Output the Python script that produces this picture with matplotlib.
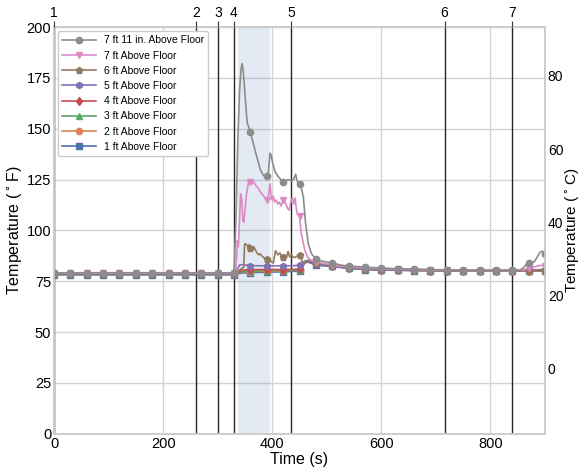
import numpy as np
import matplotlib
matplotlib.use('Agg')
import matplotlib.pyplot as plt

plt.rcParams['font.family'] = ['Liberation Sans', 'DejaVu Sans']

# Baseline sample times (s) shared by every sensor before ignition
t_base = [0, 30, 60, 90, 120, 150, 180, 210, 240, 270, 300, 330]

# 7 ft 11 in. Above Floor
t_7ft11 = t_base + [334, 337, 340, 343, 345, 347, 350, 354, 360, 365, 369, 374, 378, 384,
                    390, 393, 396, 398, 401, 405, 411, 417, 420, 425, 430, 435, 439, 443,
                    446, 450, 453, 457, 461, 466, 472, 480, 490, 500, 510, 525, 540, 570,
                    600, 630, 660, 690, 720, 750, 780, 810, 840, 855, 862, 866, 870, 875,
                    880, 886, 890, 894, 897, 900]
T_7ft11 = [79.2] * 12 + [110, 145, 168, 180, 182, 178, 167, 153, 148.5, 143, 139, 134, 130,
                         127, 127, 129, 138, 137, 133, 129, 126.4, 124.8, 124, 124.5, 125,
                         124.5, 125, 127.6, 124, 123, 121, 116.6, 104, 93.5, 88.5, 86, 85,
                         84.5, 84, 83, 82.5, 82, 81.5, 81.2, 81, 80.8, 80.6, 80.4, 80.4,
                         80.4, 80.4, 80.6, 82, 83.5, 84, 84, 84.5, 87, 89, 89.8, 89.5, 88.5]

# 7 ft Above Floor
t_7ft = t_base + [333, 335, 336, 338, 340, 342, 344, 346, 348, 350, 353, 356, 358, 360, 363,
                  366, 370, 374, 378, 381, 384, 387, 390, 392, 394, 396, 398, 400, 402, 404,
                  407, 410, 413, 416, 419, 420, 422, 425, 428, 431, 434, 437, 440, 442, 444,
                  446, 450, 453, 456, 460, 465, 470, 480, 490, 500, 510, 540, 570, 600, 630,
                  660, 690, 720, 750, 780, 810, 840, 860, 870, 880, 890, 900]
T_7ft = [79.0] * 12 + [80, 87, 95, 92, 105, 118, 116, 105, 104, 110, 118, 123, 125, 124, 123,
                       124, 122, 121, 119, 118, 117, 116, 115, 115, 119, 123, 116, 115, 117,
                       114, 115, 113, 114, 112, 114, 115, 115, 113, 111, 110, 114, 116, 113,
                       116, 111, 108, 107, 99, 95, 90, 87, 85.5, 84.5, 84, 83.5, 83, 82,
                       81.5, 81.2, 81, 80.8, 80.6, 80.5, 80.3, 80.3, 80.3, 80.3, 80.5, 81.5,
                       82, 82.8, 82.6]

# 6 ft Above Floor
t_6ft = t_base + [335, 340, 345, 348, 349, 350, 353, 356, 358, 360, 363, 366, 369, 372, 375,
                  378, 381, 385, 390, 393, 396, 399, 402, 404, 406, 408, 411, 414, 417, 420,
                  423, 426, 429, 432, 435, 438, 442, 446, 450, 453, 456, 460, 465, 470, 480,
                  490, 500, 510, 540, 570, 600, 630, 660, 690, 720, 750, 780, 810, 840, 870,
                  900]
T_6ft = [78.8] * 12 + [79.5, 80.5, 81.5, 82, 92, 93.5, 93, 92, 93, 91.5, 90, 92, 90.5, 89, 88,
                       88.5, 87.5, 86.5, 86, 86.5, 85.5, 84.5, 84, 87, 90, 89, 88, 89, 87.5,
                       87, 88, 86.5, 89.7, 87, 88, 87, 86.7, 87.5, 88, 86, 84.5, 84, 85, 85,
                       84, 83.5, 83, 82.8, 82, 81.5, 81.2, 81, 80.8, 80.6, 80.5, 80.3, 80.3,
                       80.3, 80.3, 80.5, 80.8]

# Lower sensors share the same sample times
t_low = t_base + [333, 336, 340, 345, 360, 390, 420, 440, 450, 455, 460, 465, 470, 480, 490,
                  500, 510, 540, 570, 600, 630, 660, 690, 720, 750, 780, 810, 840, 870, 900]
T_5ft = [78.6] * 12 + [79, 81, 83, 83.2, 82.7, 82.6, 82.6, 82.7, 83, 84, 84.8, 85, 84.5, 83.5,
                       83, 82.8, 82.5, 81.5, 81, 80.8, 80.6, 80.5, 80.4, 80.3, 80.3, 80.3,
                       80.3, 80.3, 80.4, 80.5]
T_4ft = [78.5] * 12 + [78.8, 79.2, 79.8, 80.5, 80.7, 80.8, 80.8, 80.9, 81, 83, 84.5, 85, 84.5,
                       83.5, 83.2, 83, 82.5, 81.5, 81, 80.7, 80.5, 80.4, 80.3, 80.3, 80.3,
                       80.2, 80.2, 80.2, 80.3, 80.3]
T_3ft = [78.4] * 12 + [78.6, 79, 79.4, 79.8, 80, 80.3, 80.4, 80.5, 80.6, 83, 85, 85.3, 85, 84,
                       83.4, 83, 82.7, 81.5, 81, 80.7, 80.5, 80.4, 80.3, 80.3, 80.2, 80.2,
                       80.2, 80.2, 80.2, 80.3]
T_2ft = [78.5] * 12 + [78.6, 79, 79.3, 79.6, 79.8, 80, 80.2, 80.4, 80.5, 82.5, 84.5, 85.3, 85,
                       84.3, 83.5, 83.1, 82.8, 81.6, 81, 80.7, 80.5, 80.4, 80.3, 80.3, 80.2,
                       80.2, 80.2, 80.2, 80.2, 80.3]
T_1ft = [78.2] * 12 + [78.3, 78.6, 78.9, 79.1, 79.3, 79.5, 79.7, 79.9, 80, 82, 84, 84.5, 84,
                       83, 82.7, 82.5, 82.3, 81.3, 80.8, 80.5, 80.4, 80.3, 80.2, 80.2, 80.1,
                       80.1, 80.1, 80.1, 80.1, 80.2]

labels = ['1 ft Above Floor', '2 ft Above Floor', '3 ft Above Floor', '4 ft Above Floor',
          '5 ft Above Floor', '6 ft Above Floor', '7 ft Above Floor', '7 ft 11 in. Above Floor']
times = [t_low, t_low, t_low, t_low, t_low, t_6ft, t_7ft, t_7ft11]
temps = [T_1ft, T_2ft, T_3ft, T_4ft, T_5ft, T_6ft, T_7ft, T_7ft11]
markers = ['s', 'o', '^', 'd', 'h', 'p', 'v', 'o']
colors = ['#4C72B0', '#DD8452', '#55A868', '#C44E52', '#8172B3', '#937860', '#DA8BC3', '#8C8C8C']

# Timeline events (s) and label shown on top axis
event_times = [0, 261, 301, 329, 435, 716, 839]
event_labels = ['1', '2', '3', '4', '5', '6', '7']
shade_start, shade_end = 336.5, 395.5

fig = plt.figure(figsize=(5.81, 4.67), dpi=100)
ax1 = fig.add_axes([0.093, 0.071, 0.845, 0.871])

ax1.axvspan(shade_start, shade_end, color='#4C72B0', alpha=0.15, lw=0, zorder=1)
for et in event_times:
    ax1.axvline(et, color='k', lw=1, alpha=0.85, zorder=2)

handles = []
for t, T, m, c, lab in zip(times, temps, markers, colors, labels):
    t = np.array(t)
    mk = list(np.where(t % 30 == 0)[0])
    h, = ax1.plot(t, T, color=c, marker=m, markevery=mk, ms=4.5, lw=1.2, label=lab, zorder=3)
    handles.append(h)

ax1.set_xlim(0, 900)
ax1.set_ylim(0, 200)
ax1.set_xticks([0, 200, 400, 600, 800])
ax1.set_xlabel('Time (s)', fontsize=11.5, labelpad=1)
ax1.set_ylabel('Temperature ($^\\circ$F)', fontsize=11.5, labelpad=2)
ax1.grid(True, color='#d3d3d3', lw=1)
ax1.set_axisbelow(True)
ax1.tick_params(length=0, labelsize=10.5, pad=2)
for sp in ax1.spines.values():
    sp.set_color('#cccccc')
    sp.set_linewidth(1.2)

leg = ax1.legend(handles[::-1], labels[::-1], loc='upper left', fontsize=7.5,
                 handlelength=3.2, labelspacing=0.5, framealpha=1, edgecolor='#cccccc',
                 borderaxespad=0.4)
leg.set_zorder(10)

ax2 = ax1.twinx()
ax2.set_ylim((0 - 32) / 1.8, (200 - 32) / 1.8)
ax2.set_yticks([0, 20, 40, 60, 80])
ax2.set_ylabel('Temperature ($^\\circ$C)', fontsize=11, labelpad=0)
ax2.tick_params(length=0, labelsize=10, pad=2)
ax2.grid(False)
for sp in ax2.spines.values():
    sp.set_color('#cccccc')
    sp.set_linewidth(1.2)

ax3 = ax1.twiny()
ax3.set_xlim(ax1.get_xlim())
ax3.set_xticks(event_times)
ax3.set_xticklabels(event_labels)
ax3.tick_params(axis='x', length=4, labelsize=10, pad=1, color='#333333')
ax3.grid(False)
for sp in ax3.spines.values():
    sp.set_visible(False)

fig.savefig('out.png', dpi=100)
